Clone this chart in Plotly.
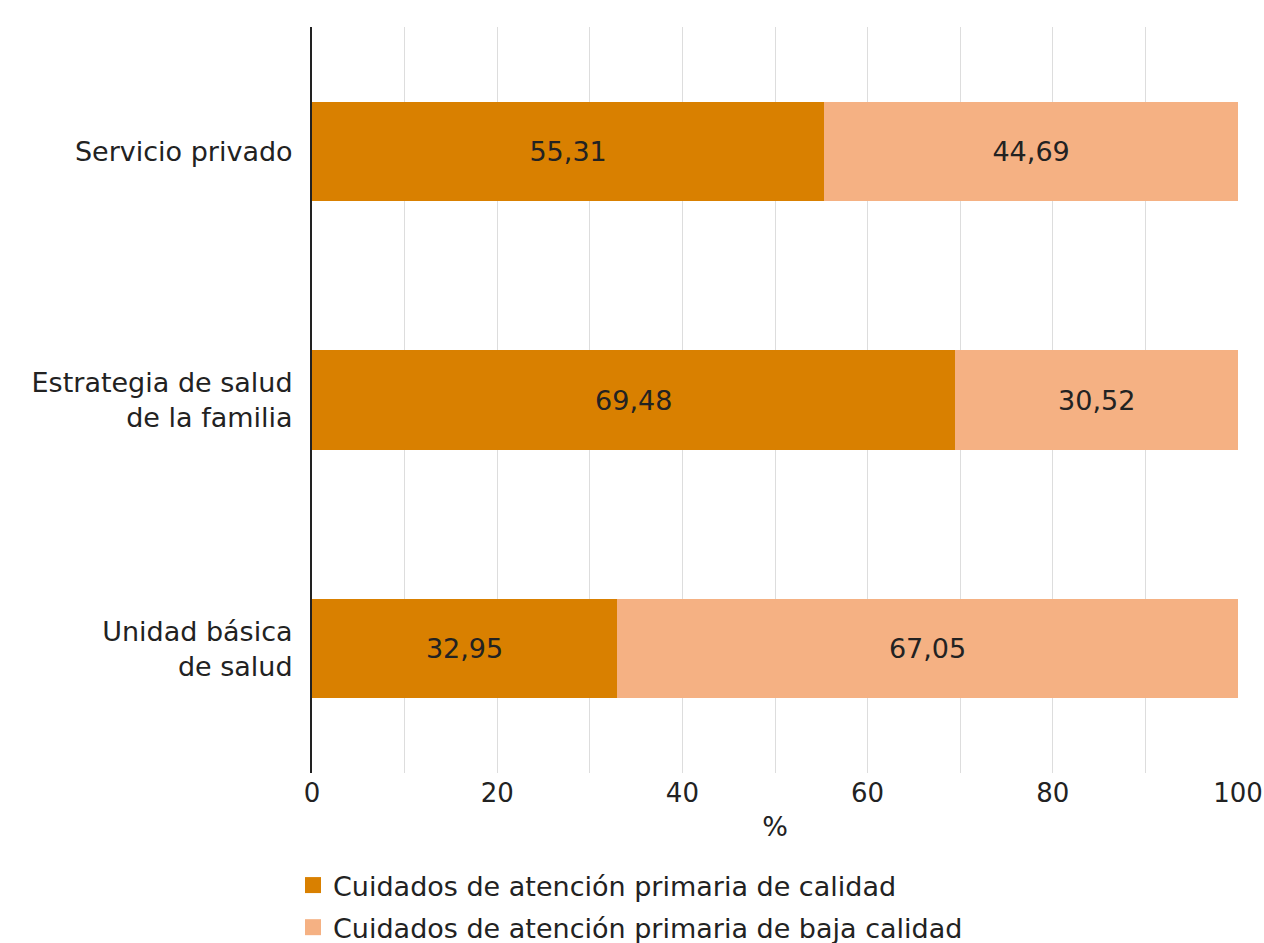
import plotly.graph_objects as go

categories = ["Servicio privado", "Estrategia de salud<br>de la familia", "Unidad básica<br>de salud"]
calidad = [55.31, 69.48, 32.95]
baja_calidad = [44.69, 30.52, 67.05]
series_names = ["Cuidados de atención primaria de calidad",
                "Cuidados de atención primaria de baja calidad"]
colors = ["#D98000", "#F5B183"]

FONT = "DejaVu Sans"
FS = 27

def fmt(v):
    return f"{v:.2f}".replace(".", ",")

fig = go.Figure()
for i, (name, vals, col) in enumerate(zip(series_names, [calidad, baja_calidad], colors)):
    fig.add_trace(go.Bar(
        y=categories, x=vals, name=name, orientation="h",
        marker=dict(color=col, line=dict(width=0)),
        text=[fmt(v) for v in vals], textposition="inside",
        insidetextanchor="middle",
        textfont=dict(family=FONT, size=FS, color="#222222"),
        showlegend=False,
    ))
    # legend entry with a larger square symbol
    fig.add_trace(go.Scatter(
        x=[None], y=[None], mode="markers", name=name,
        legendgroup=f"g{i}",
        marker=dict(symbol="square", size=22, color=col),
        showlegend=True,
    ))

fig.update_layout(
    barmode="stack",
    bargap=0.6,
    width=1264, height=943,
    margin=dict(l=312, r=26, t=27, b=170, autoexpand=False),
    paper_bgcolor="white", plot_bgcolor="white",
    font=dict(family=FONT, size=FS, color="#222222"),
    showlegend=True,
    legend=dict(
        x=-0.0205, y=-0.118, xanchor="left", yanchor="top",
        orientation="v", traceorder="grouped",
        font=dict(size=FS, color="#222222"),
        itemwidth=30, tracegroupgap=4,
        bgcolor="rgba(0,0,0,0)",
    ),
    uniformtext=dict(mode="show", minsize=10),
)
fig.update_xaxes(
    range=[0, 100], dtick=20, tick0=0,
    showgrid=True, gridcolor="#DDDDDD", gridwidth=1,
    minor=dict(dtick=10, showgrid=True, gridcolor="#DDDDDD", gridwidth=1),
    zeroline=False, showline=False,
    ticks="", tickfont=dict(size=26), ticklabelstandoff=2,
    ticklabeloverflow="allow",
    title=dict(text="%", font=dict(size=FS), standoff=10),
    automargin=False,
)
fig.update_yaxes(
    categoryorder="array", categoryarray=categories[::-1],
    showline=True, linecolor="#222222", linewidth=2,
    showgrid=False, ticks="outside", ticklen=12, tickcolor="rgba(0,0,0,0)",
    tickfont=dict(size=FS),
    automargin=False,
)
fig.write_html("out.html",
               config={"displayModeBar": False},
               post_script="document.body.style.margin='0';document.body.style.overflow='hidden';")
